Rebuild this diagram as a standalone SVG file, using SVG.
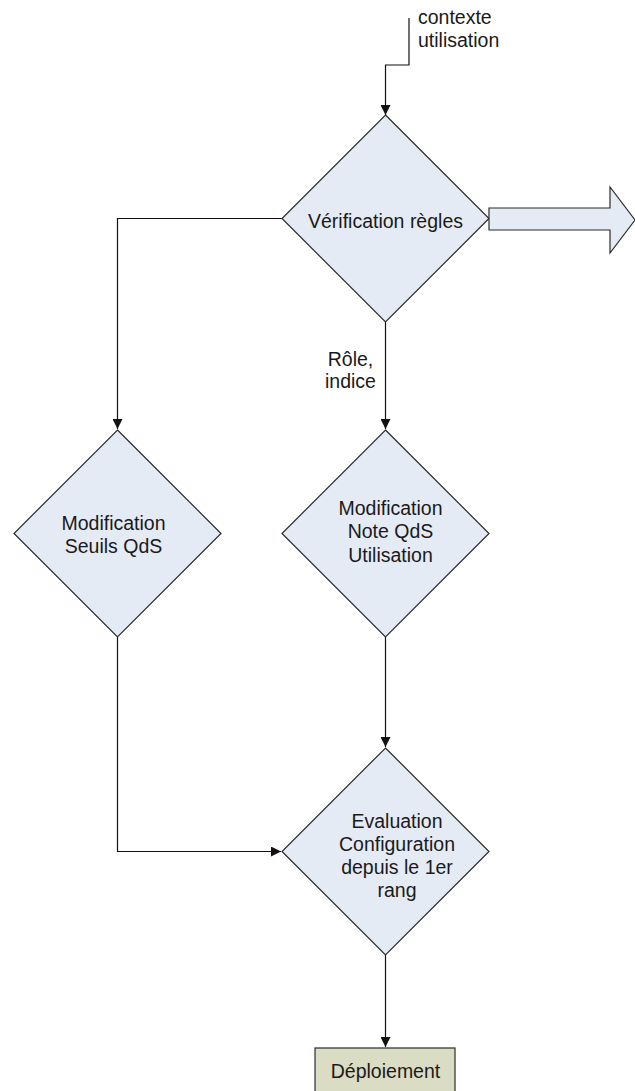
<svg xmlns="http://www.w3.org/2000/svg" width="635" height="1091" viewBox="0 0 635 1091">
<style>
.d{fill:#e5ebf5;stroke:#2b2b2b;stroke-width:1.2}
.b{fill:#dadcc4;stroke:#2b2b2b;stroke-width:1.2}
.c{fill:none;stroke:#111;stroke-width:1.2}
text{font-family:"Liberation Sans",Arial,sans-serif;font-size:19.5px;fill:#1a1a1a}
.m{text-anchor:middle}
</style>
<defs>
<marker id="ah" viewBox="0 0 10 10" refX="10" refY="5" markerWidth="10" markerHeight="10" markerUnits="userSpaceOnUse" orient="auto">
<path d="M0,0 L10,5 L0,10 z" fill="#111"/>
</marker>
</defs>
<g id="connectors">
<polyline class="c" points="409,18 409,65 385.5,65 385.5,115" marker-end="url(#ah)"/>
<polyline class="c" points="282,218.5 117.5,218.5 117.5,429" marker-end="url(#ah)"/>
<line class="c" x1="385.5" y1="322" x2="385.5" y2="429" marker-end="url(#ah)"/>
<line class="c" x1="385.5" y1="637" x2="385.5" y2="747" marker-end="url(#ah)"/>
<polyline class="c" points="117.5,637 117.5,851.5 281,851.5" marker-end="url(#ah)"/>
<line class="c" x1="385.5" y1="955" x2="385.5" y2="1047" marker-end="url(#ah)"/>
<text x="418" y="24">contexte</text>
<text x="418" y="47">utilisation</text>
<text class="m" x="350.5" y="366">Rôle,</text>
<text class="m" x="350.5" y="388">indice</text>
</g>
<g id="verification">
<polygon class="d" points="385.5,115 489,218.5 385.5,322 282,218.5"/>
<text class="m" x="385.5" y="228">Vérification règles</text>
</g>
<g id="output-arrow">
<polygon class="d" points="489,208 610,208 610,187 635,220 610,253 610,230 489,230"/>
</g>
<g id="seuils">
<polygon class="d" points="117.5,430 221,533.5 117.5,637 14,533.5"/>
<text class="m" x="113.5" y="530">Modification</text>
<text class="m" x="113.5" y="553">Seuils QdS</text>
</g>
<g id="note">
<polygon class="d" points="385.5,430 489,533.5 385.5,637 282,533.5"/>
<text class="m" x="390.5" y="515">Modification</text>
<text class="m" x="390.5" y="538">Note QdS</text>
<text class="m" x="390.5" y="562">Utilisation</text>
</g>
<g id="evaluation">
<polygon class="d" points="385.5,748 489,851.5 385.5,955 282,851.5"/>
<text class="m" x="397" y="828">Evaluation</text>
<text class="m" x="397" y="851">Configuration</text>
<text class="m" x="397" y="874">depuis le 1er</text>
<text class="m" x="397" y="897">rang</text>
</g>
<g id="deploiement">
<rect class="b" x="315" y="1048" width="140" height="50"/>
<text class="m" x="385.5" y="1078">Déploiement</text>
</g>
</svg>
